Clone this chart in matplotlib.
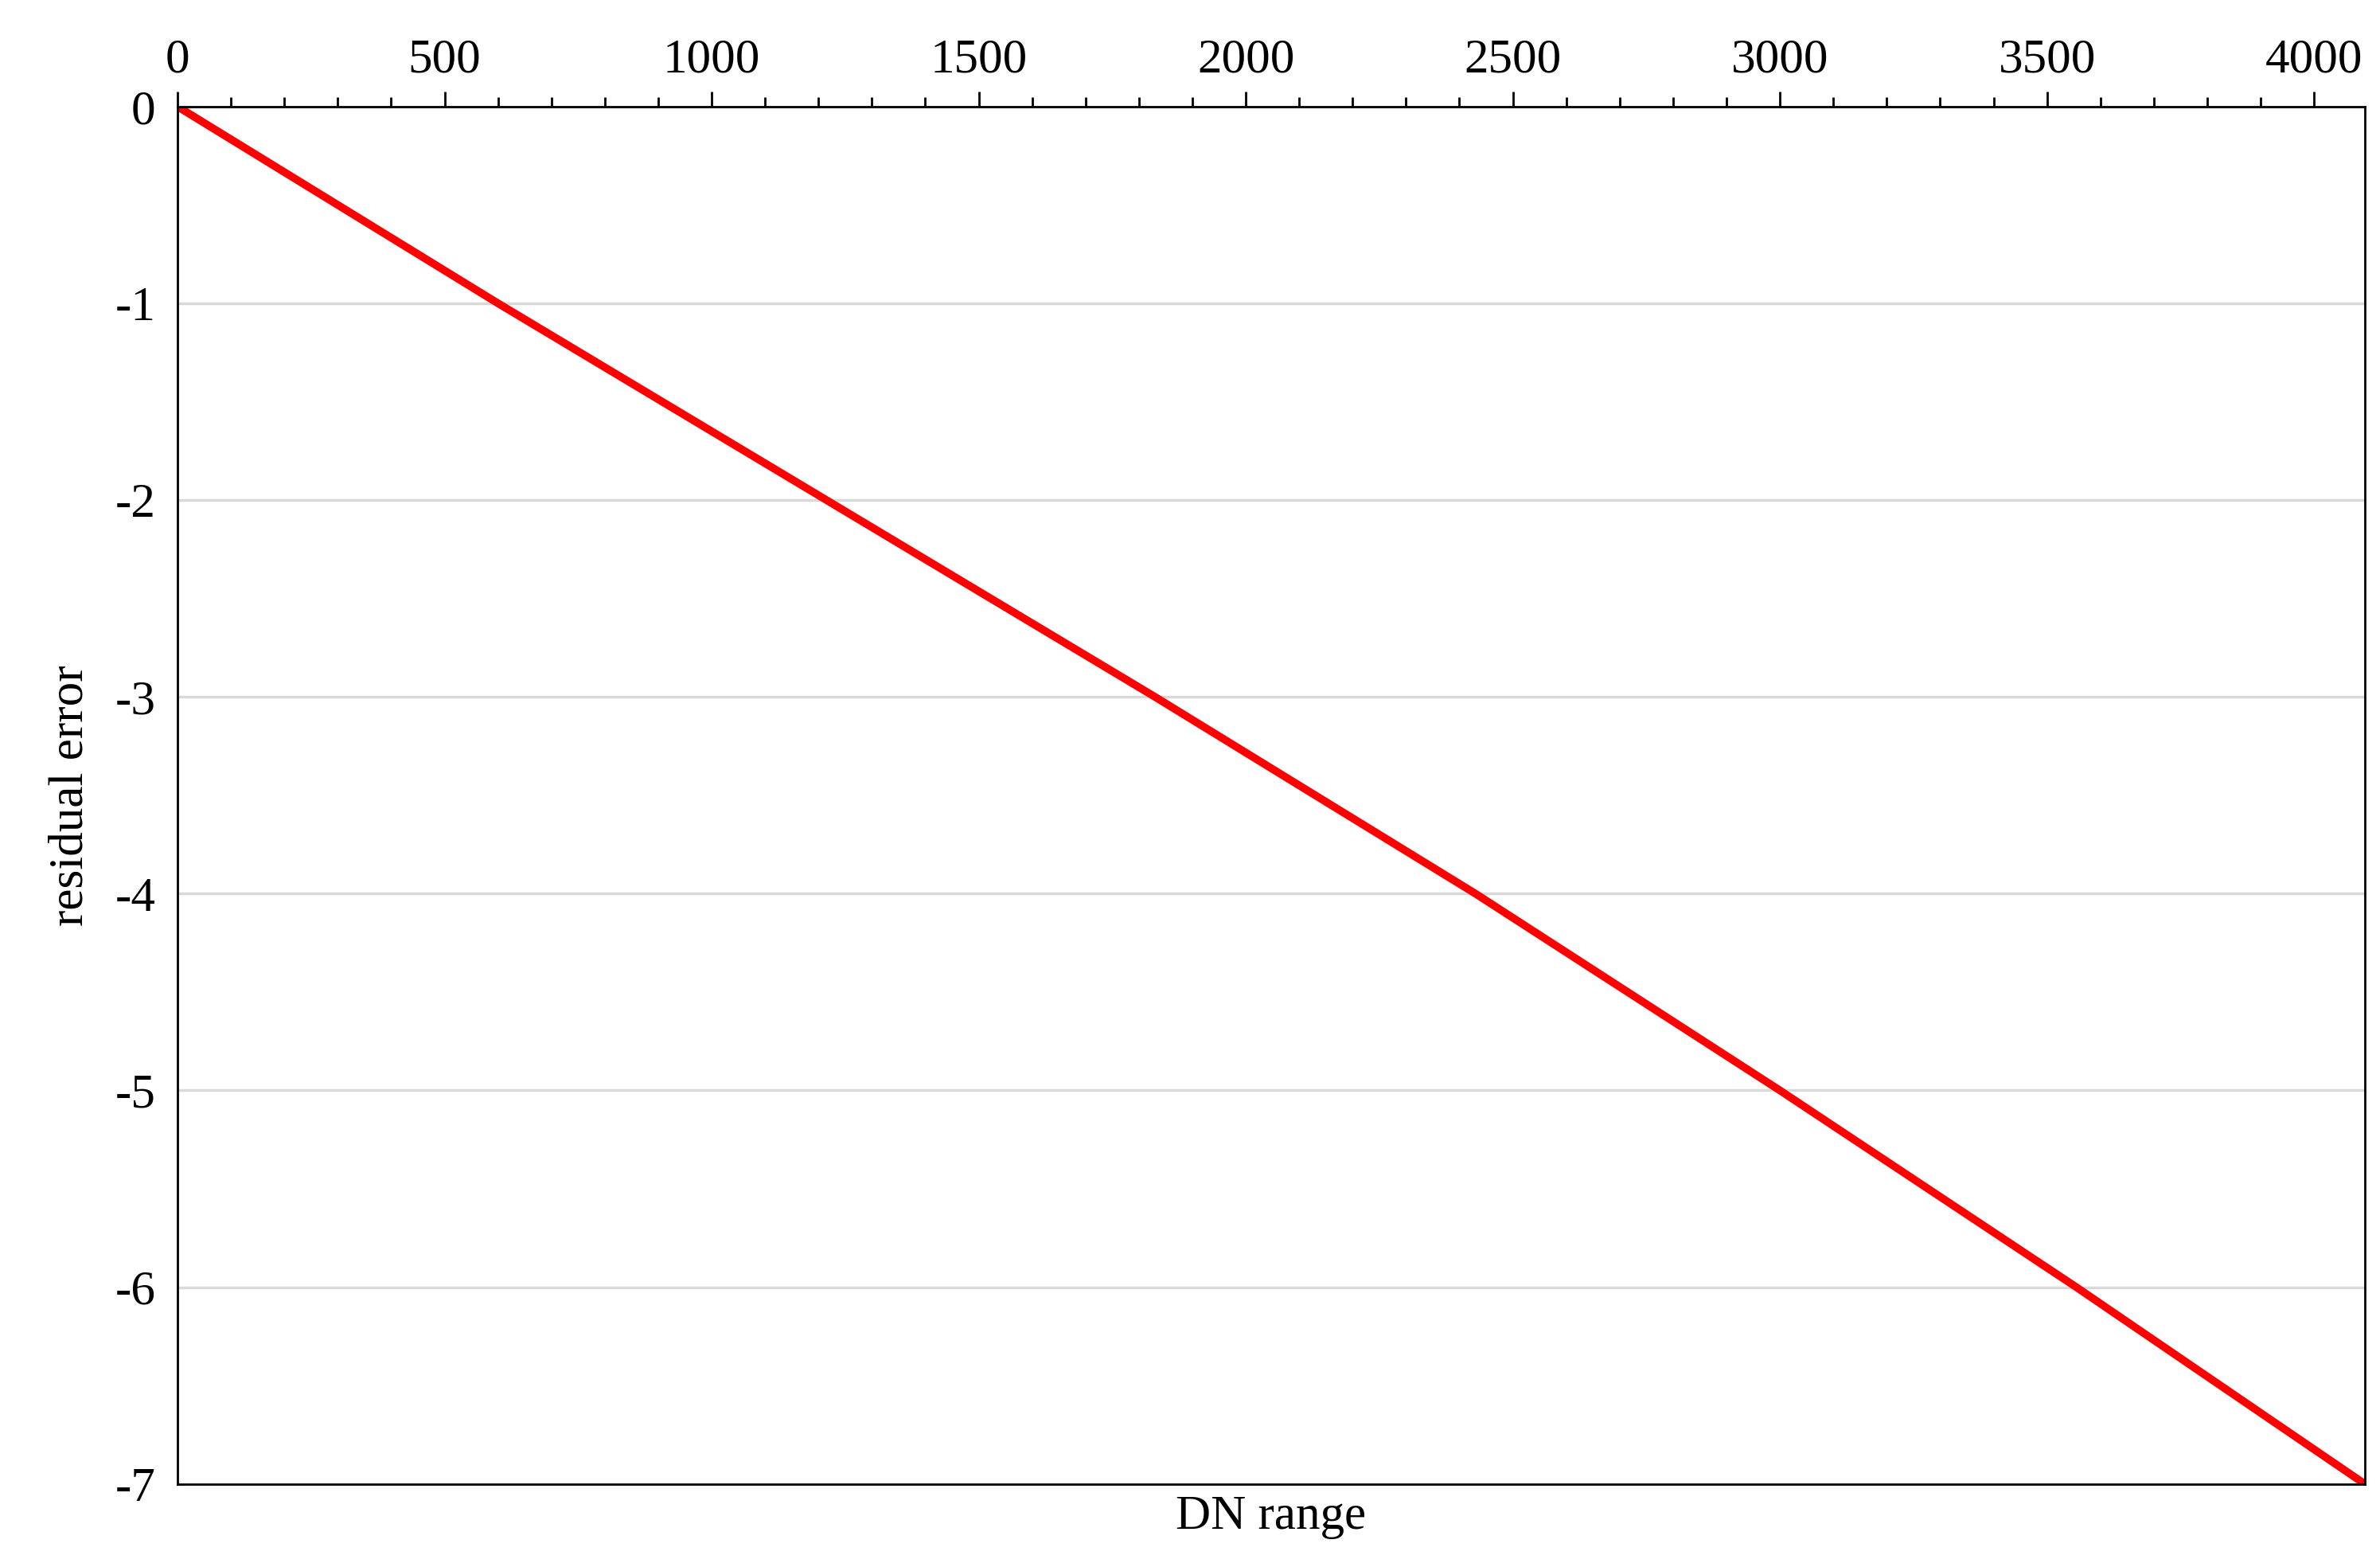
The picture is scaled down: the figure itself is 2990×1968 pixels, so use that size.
import matplotlib
matplotlib.use("Agg")
import matplotlib.pyplot as plt
from matplotlib.ticker import MultipleLocator

dn = [0, 600, 1215, 1830, 2430, 3000, 3555, 4095]
err = [0, -1, -2, -3, -4, -5, -6, -7]

plt.rcParams['font.family'] = ['Liberation Serif', 'DejaVu Serif']
fig = plt.figure(figsize=(29.9, 19.68), dpi=100)
ax = fig.add_axes([0.0746, 0.053, 0.919, 0.879])
ax.plot(dn, err, color='#ff0000', lw=7, solid_capstyle='butt')
ax.set_xlim(0, 4095)
ax.set_ylim(-7, 0)
ax.xaxis.tick_top()
ax.xaxis.set_major_locator(MultipleLocator(500))
ax.xaxis.set_minor_locator(MultipleLocator(100))
ax.tick_params(axis='x', which='major', length=14, width=2, labelsize=44, pad=8, direction='out')
ax.tick_params(axis='x', which='minor', length=9, width=2, direction='out')
ax.tick_params(axis='y', length=0, labelsize=44, pad=20)
ax.yaxis.set_major_locator(MultipleLocator(1))
ax.yaxis.set_major_formatter(plt.FuncFormatter(lambda v, p: f"{int(round(v))}"))
ax.grid(axis='y', color='#d9d9d9', lw=2.5)
ax.set_axisbelow(True)
for s in ax.spines.values():
    s.set_linewidth(2); s.set_color('black')
ax.set_xlabel('DN range', fontsize=44, labelpad=10)
ax.xaxis.set_label_position('bottom')
ax.set_ylabel('residual error', fontsize=44, labelpad=20)
fig.savefig('out.png')
